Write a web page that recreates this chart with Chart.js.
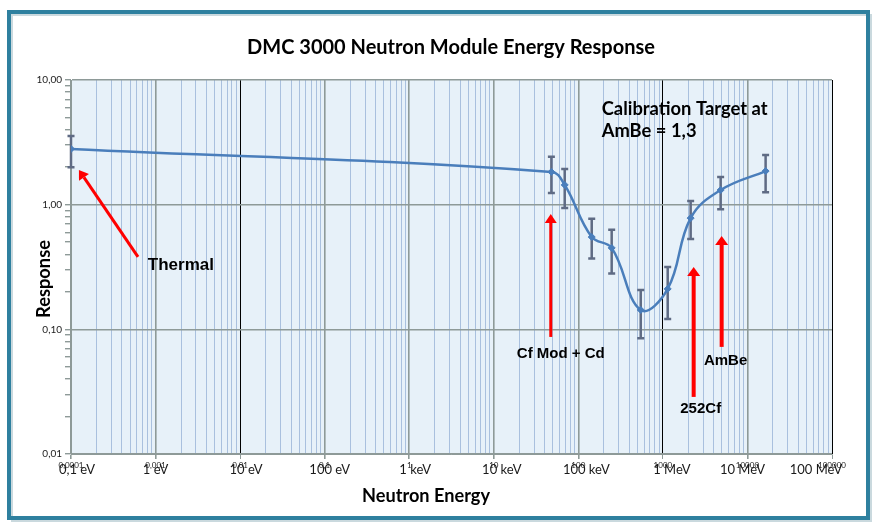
<!DOCTYPE html>
<html><head><meta charset="utf-8">
<script src="https://cdn.jsdelivr.net/npm/chart.js@4"></script>
<style>html,body{margin:0;padding:0;background:#fff}canvas{display:block}</style>
</head><body>
<canvas id="c" width="877" height="528"></canvas>
<script>
// ---- data (energy in keV) ----
const energyKeV = [0.0001, 48, 69, 144, 248, 547, 1140, 2130, 4820, 16400];
const response  = [2.80, 1.83, 1.44, 0.55, 0.45, 0.143, 0.211, 0.78, 1.31, 1.86];
const errHigh   = [3.56, 2.42, 1.93, 0.77, 0.63, 0.207, 0.316, 1.07, 1.67, 2.50];
const errLow    = [2.00, 1.24, 0.94, 0.37, 0.28, 0.085, 0.121, 0.53, 0.92, 1.26];
const xTickValues = [0.0001, 0.001, 0.01, 0.1, 1, 10, 100, 1000, 10000, 100000];
const xTickLabels = ['0,0001','0,001','0,01','0,1','1','10','100','1000','10000','100000'];
const energyLabels = ['0,1 eV','1 eV','10 eV','100 eV','1 keV','10 keV','100 keV','1 MeV','10 MeV','100 MeV'];
const yTickValues = [0.01, 0.1, 1, 10];
const yTickLabels = ['0,01','0,10','1,00','10,00'];
const titleText = 'DMC 3000 Neutron Module Energy Response';
const xTitle = 'Neutron Energy';
const yTitle = 'Response';
const calibLines = ['Calibration Target at', 'AmBe = 1,3'];
const noteTexts = ['Thermal', 'Cf Mod + Cd', '252Cf', 'AmBe'];

// annotation anchors in data coordinates (keV, response)
const noteAnchors = [
  {x: 8.1e-4, y: 0.325, align: 'left',   size: 17, from: [6.2e-4, 0.381], to: [1.24e-4, 1.90], w: 3},
  {x: 62,     y: 0.0635, align: 'center', size: 15, from: [47.2, 0.0869], to: [47.2, 0.842], w: 3},
  {x: 2800,   y: 0.0232, align: 'center', size: 15, from: [2312, 0.0287], to: [2312, 0.3165], w: 4},
  {x: 5520,   y: 0.0558, align: 'center', size: 15, from: [4955, 0.0723], to: [4955, 0.561], w: 4}
];
const calibAnchor = {x: 189, y1: 5.85, y2: 3.90};
const energyLabelShift = [6, 0, 6, 5, 6, 8, 8, 9, -5, -16];

function isDecade(v, d) { return Math.abs(Math.log10(v) - Math.log10(d)) < 1e-6; }

function buildTicks(majors, labels) {
  return function (scale) {
    const t = [];
    for (let i = 0; i < majors.length; i++) {
      t.push({value: majors[i], lbl: labels[i], major: false});
      if (i < majors.length - 1) {
        for (let m = 2; m <= 9; m++) t.push({value: majors[i] * m, lbl: '', major: false});
      }
    }
    scale.ticks = t;
  };
}

const GREY = '#8E9A98';
function xGridColor(c) {
  const t = c.tick; if (!t) return 'rgba(0,0,0,0)';
  if (t.lbl) {
    if (isDecade(t.value, 0.01) || isDecade(t.value, 1000) || isDecade(t.value, 100000)) return '#000';
    return GREY;
  }
  return '#A9C0DE';
}
function xGridWidth(c) {
  const t = c.tick; if (!t) return 1;
  if (t.lbl && !(isDecade(t.value, 0.01) || isDecade(t.value, 1000) || isDecade(t.value, 100000))) return 1.6;
  return 1;
}

function fitSize(ctx, text, weight, family, targetW) {
  ctx.font = weight + ' 100px ' + family;
  return 100 * targetW / ctx.measureText(text).width;
}

const deco = {
  id: 'deco',
  beforeDraw(chart) {
    const {ctx, chartArea: a} = chart;
    ctx.save();
    ctx.fillStyle = '#fff';
    ctx.fillRect(0, 0, chart.width, chart.height);
    ctx.fillStyle = '#E7F1F9';
    ctx.fillRect(a.left, a.top, a.right - a.left, a.bottom - a.top);
    // outer frame with faint shadow
    ctx.strokeStyle = 'rgba(150,180,190,0.5)';
    ctx.lineWidth = 2;
    ctx.strokeRect(12, 15, 859, 506);
    ctx.strokeStyle = '#2E809F';
    ctx.lineWidth = 4;
    ctx.strokeRect(9, 12, 859, 506);
    ctx.restore();
  },
  beforeDatasetsDraw(chart) {
    const {ctx} = chart; const xs = chart.scales.x, ys = chart.scales.y;
    ctx.save();
    ctx.strokeStyle = '#5F6B84';
    ctx.lineWidth = 2.5;
    energyKeV.forEach((e, i) => {
      const px = xs.getPixelForValue(e);
      const top = ys.getPixelForValue(errHigh[i]);
      const bot = ys.getPixelForValue(errLow[i]);
      ctx.beginPath();
      ctx.moveTo(px, top); ctx.lineTo(px, bot);
      ctx.moveTo(px - 3.5, top); ctx.lineTo(px + 3.5, top);
      ctx.moveTo(px - 3.5, bot); ctx.lineTo(px + 3.5, bot);
      ctx.stroke();
    });
    ctx.restore();
  },
  afterDraw(chart) {
    const {ctx, chartArea: a} = chart; const xs = chart.scales.x, ys = chart.scales.y;
    ctx.save();
    // title
    let s = fitSize(ctx, titleText, 'bold', 'Lato', 408);
    ctx.font = 'bold ' + s.toFixed(2) + 'px Lato';
    ctx.fillStyle = '#000';
    ctx.textAlign = 'center'; ctx.textBaseline = 'alphabetic';
    ctx.fillText(titleText, 451, 54);
    // x title
    s = fitSize(ctx, xTitle, 'bold', 'Lato', 128);
    ctx.font = 'bold ' + s.toFixed(2) + 'px Lato';
    ctx.fillText(xTitle, 426, 502);
    // y title
    s = fitSize(ctx, yTitle, 'bold', 'Lato', 78);
    ctx.font = 'bold ' + s.toFixed(2) + 'px Lato';
    ctx.save();
    ctx.translate(50, 279);
    ctx.rotate(-Math.PI / 2);
    ctx.fillText(yTitle, 0, 0);
    ctx.restore();
    // energy labels
    ctx.font = '13px Lato';
    ctx.fillStyle = '#1a1a1a';
    xTickValues.forEach((v, i) => {
      ctx.fillText(energyLabels[i], xs.getPixelForValue(v) + energyLabelShift[i], 474);
    });
    // calibration note
    s = fitSize(ctx, calibLines[0], 'bold', 'Lato', 166);
    ctx.font = 'bold ' + s.toFixed(2) + 'px Lato';
    ctx.fillStyle = '#000';
    ctx.textAlign = 'left'; ctx.textBaseline = 'middle';
    const cx = xs.getPixelForValue(calibAnchor.x);
    ctx.fillText(calibLines[0], cx, ys.getPixelForValue(calibAnchor.y1));
    ctx.fillText(calibLines[1], cx, ys.getPixelForValue(calibAnchor.y2));
    // arrows + notes
    noteAnchors.forEach((n, i) => {
      const x0 = xs.getPixelForValue(n.from[0]), y0 = ys.getPixelForValue(n.from[1]);
      const x1 = xs.getPixelForValue(n.to[0]), y1 = ys.getPixelForValue(n.to[1]);
      const ang = Math.atan2(y1 - y0, x1 - x0);
      const hl = 9, hw = 4.5 + n.w / 2;
      const bx = x1 - hl * Math.cos(ang), by = y1 - hl * Math.sin(ang);
      ctx.strokeStyle = '#FF0000'; ctx.fillStyle = '#FF0000';
      ctx.lineWidth = n.w;
      ctx.beginPath(); ctx.moveTo(x0, y0); ctx.lineTo(bx, by); ctx.stroke();
      ctx.beginPath();
      ctx.moveTo(x1, y1);
      ctx.lineTo(bx + hw * Math.sin(ang), by - hw * Math.cos(ang));
      ctx.lineTo(bx - hw * Math.sin(ang), by + hw * Math.cos(ang));
      ctx.closePath(); ctx.fill();
      ctx.fillStyle = '#000';
      ctx.font = 'bold ' + n.size + 'px "Liberation Sans", Arial, sans-serif';
      ctx.textAlign = n.align; ctx.textBaseline = 'middle';
      ctx.fillText(noteTexts[i], xs.getPixelForValue(n.x), ys.getPixelForValue(n.y));
    });
    ctx.restore();
  }
};

new Chart(document.getElementById('c'), {
  type: 'line',
  data: {
    datasets: [{
      data: energyKeV.map((x, i) => ({x: x, y: response[i]})),
      borderColor: '#4A7EBB', borderWidth: 2.5, tension: 0.4,
      pointStyle: 'rectRot', pointRadius: 3.5,
      pointBackgroundColor: '#4A7EBB', pointBorderColor: '#4A7EBB', pointBorderWidth: 1,
      fill: false
    }]
  },
  options: {
    responsive: false, animation: false, devicePixelRatio: 1,
    layout: {padding: {top: 80, right: 45, left: 0, bottom: 0}},
    plugins: {legend: {display: false}, tooltip: {enabled: false}, title: {display: false}},
    scales: {
      x: {
        type: 'logarithmic', min: 0.0001, max: 100000,
        afterBuildTicks: buildTicks(xTickValues, xTickLabels),
        afterFit: s => { s.height = 74; },
        ticks: {autoSkip: false, maxRotation: 0, minRotation: 0,
          callback: (v, i, t) => (t[i] && t[i].lbl) || '',
          font: {family: 'Lato', size: 8}, color: '#222', padding: 2},
        grid: {color: xGridColor, lineWidth: xGridWidth, tickLength: 5,
          tickColor: c => (c.tick && c.tick.lbl) ? GREY : 'rgba(0,0,0,0)'},
        border: {color: GREY, width: 1}
      },
      y: {
        type: 'logarithmic', min: 0.01, max: 10,
        afterBuildTicks: buildTicks(yTickValues, yTickLabels),
        afterFit: s => { s.width = 71; },
        ticks: {autoSkip: false, callback: (v, i, t) => (t[i] && t[i].lbl) || '',
          font: {family: 'Lato', size: 10}, color: '#222', padding: 3},
        grid: {color: c => (c.tick && c.tick.lbl) ? GREY : 'rgba(0,0,0,0)', lineWidth: 1.4,
          tickLength: 6, tickColor: GREY},
        border: {color: GREY, width: 1}
      }
    }
  },
  plugins: [deco]
});
</script>
</body></html>
